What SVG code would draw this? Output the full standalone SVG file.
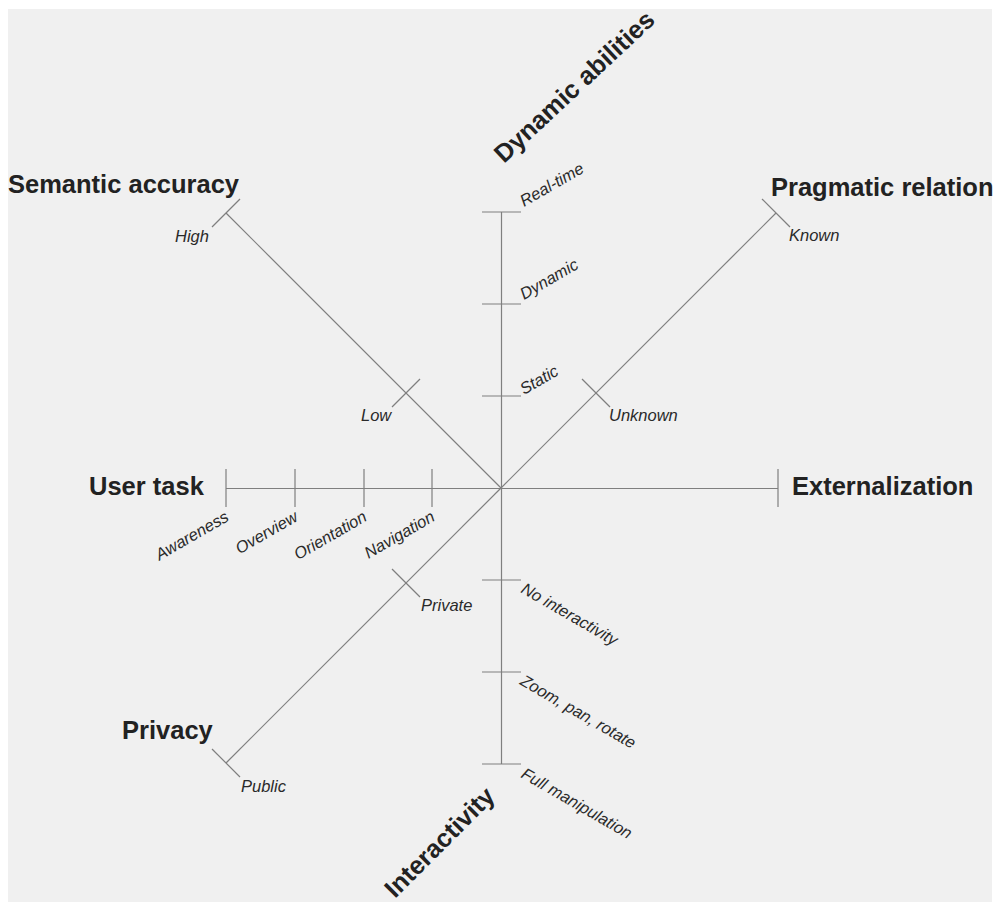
<svg xmlns="http://www.w3.org/2000/svg" width="997" height="902" viewBox="0 0 997 902">
<style>
.ax{stroke:#7f7f7f;stroke-width:1.2;fill:none}
.big{font-family:"Liberation Sans",Arial,sans-serif;font-weight:bold;font-size:25.5px;fill:#222}
.sm{font-family:"Liberation Sans",Arial,sans-serif;font-style:italic;font-size:16.5px;fill:#2a2a2a}
</style>
<rect x="0" y="0" width="997" height="902" fill="#ffffff"/>
<rect x="8" y="9" width="984" height="893" fill="#f0f0f0"/>
<g id="connectors">
<line class="ax" x1="501.5" y1="212" x2="501.5" y2="764"/>
<line class="ax" x1="226" y1="488.5" x2="778" y2="488.5"/>
<line class="ax" x1="501" y1="488" x2="226" y2="213"/>
<line class="ax" x1="501" y1="488" x2="776" y2="213"/>
<line class="ax" x1="501" y1="488" x2="226" y2="763"/>
</g>
<g id="dynamic-abilities">
<line class="ax" x1="482" y1="212" x2="521" y2="212"/>
<line class="ax" x1="482" y1="304" x2="521" y2="304"/>
<line class="ax" x1="482" y1="396" x2="521" y2="396"/>
<text class="big" transform="translate(504,164) rotate(-43)">Dynamic abilities</text>
<text class="sm" transform="translate(524,207) rotate(-30)">Real-time</text>
<text class="sm" transform="translate(524,300) rotate(-30)">Dynamic</text>
<text class="sm" transform="translate(524,395) rotate(-30)">Static</text>
</g>
<g id="interactivity">
<line class="ax" x1="482" y1="580" x2="521" y2="580"/>
<line class="ax" x1="482" y1="672" x2="521" y2="672"/>
<line class="ax" x1="482" y1="764" x2="521" y2="764"/>
<text class="big" transform="translate(395,899) rotate(-45)">Interactivity</text>
<text class="sm" transform="translate(520,592) rotate(30)">No interactivity</text>
<text class="sm" transform="translate(519,684) rotate(30)">Zoom, pan, rotate</text>
<text class="sm" transform="translate(520,777) rotate(30)">Full manipulation</text>
</g>
<g id="user-task">
<line class="ax" x1="226" y1="469" x2="226" y2="507"/>
<line class="ax" x1="295" y1="469" x2="295" y2="507"/>
<line class="ax" x1="364" y1="469" x2="364" y2="507"/>
<line class="ax" x1="432" y1="469" x2="432" y2="507"/>
<text class="big" x="89" y="495">User task</text>
<text class="sm" text-anchor="end" transform="translate(230,520) rotate(-30)">Awareness</text>
<text class="sm" text-anchor="end" transform="translate(299,520) rotate(-30)">Overview</text>
<text class="sm" text-anchor="end" transform="translate(368,520) rotate(-30)">Orientation</text>
<text class="sm" text-anchor="end" transform="translate(436,520) rotate(-30)">Navigation</text>
</g>
<g id="externalization">
<line class="ax" x1="778" y1="469" x2="778" y2="507"/>
<text class="big" x="792" y="495">Externalization</text>
</g>
<g id="semantic-accuracy">
<line class="ax" x1="240" y1="199" x2="212" y2="227"/>
<line class="ax" x1="420" y1="379" x2="392" y2="407"/>
<text class="big" x="8" y="193">Semantic accuracy</text>
<text class="sm" x="175" y="242">High</text>
<text class="sm" x="361" y="421">Low</text>
</g>
<g id="pragmatic-relation">
<line class="ax" x1="762" y1="199" x2="790" y2="227"/>
<line class="ax" x1="582" y1="379" x2="610" y2="407"/>
<text class="big" x="771" y="196">Pragmatic relation</text>
<text class="sm" x="789" y="241">Known</text>
<text class="sm" x="609" y="421">Unknown</text>
</g>
<g id="privacy">
<line class="ax" x1="212" y1="749" x2="240" y2="777"/>
<line class="ax" x1="392" y1="569" x2="420" y2="597"/>
<text class="big" x="122" y="739">Privacy</text>
<text class="sm" x="421" y="611">Private</text>
<text class="sm" x="241" y="792">Public</text>
</g>
</svg>
